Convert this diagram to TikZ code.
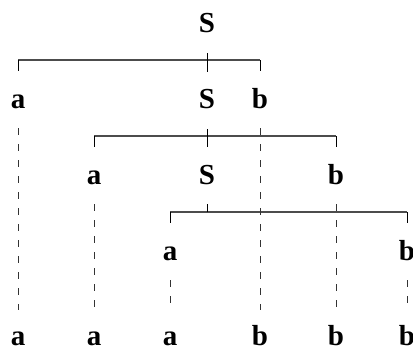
\documentclass[tikz,border=0pt]{standalone}
\usepackage{fontspec}
\setmainfont{Liberation Serif}
\begin{document}
\begin{tikzpicture}[x=1pt,y=-1pt,
  sym/.style={font=\fontsize{29}{29}\selectfont\bfseries, inner sep=0pt, anchor=base},
  stem/.style={draw=black, line width=1pt},
  bar/.style={draw=black!70, line width=1.1pt},
  dline/.style={draw=black!80, line width=1pt, dash pattern=on 7pt off 9pt}]
\useasboundingbox (0,0) rectangle (413,349);
% row 1
\node[sym] (S0) at (207,32) {S};
% row 2
\node[sym] (a1) at (18,108) {a};
\node[sym] (S1) at (207,108) {S};
\node[sym] (b1) at (260,108) {b};
% row 3
\node[sym] (a2) at (94,184) {a};
\node[sym] (S2) at (207,184) {S};
\node[sym] (b2) at (336,184) {b};
% row 4
\node[sym] (a3) at (170,260) {a};
\node[sym] (b3) at (407,260) {b};
% row 5
\node[sym] (t1) at (18,345) {a};
\node[sym] (t2) at (94,345) {a};
\node[sym] (t3) at (170,345) {a};
\node[sym] (t4) at (260,345) {b};
\node[sym] (t5) at (336,345) {b};
\node[sym] (t6) at (407,345) {b};
% brackets
\coordinate (k1l) at (18,60);  \coordinate (k1r) at (260,60);
\coordinate (k2l) at (94,136); \coordinate (k2r) at (336,136);
\coordinate (k3l) at (170,212); \coordinate (k3r) at (407,212);
\coordinate (k3m) at (207,212);
\draw[bar] (k1l) -- (k1r);
\draw[bar] (k2l) -- (k2r);
\draw[bar] (k3l) -- (k3r);
% stems
\draw[stem, shorten <=21pt, shorten >=36pt] (S0.base) -- (S1.base);
\draw[stem, shorten <=21pt, shorten >=37pt] (S1.base) -- (S2.base);
\draw[stem, shorten <=20pt] (S2.base) -- (k3m);
% bracket ends
\draw[stem, shorten >=37pt] (k1l) -- (a1.base);
\draw[stem, shorten >=37pt] (k1r) -- (b1.base);
\draw[stem, shorten >=37pt] (k2l) -- (a2.base);
\draw[stem, shorten >=37pt] (k2r) -- (b2.base);
\draw[stem, shorten >=37pt] (k3l) -- (a3.base);
\draw[stem, shorten >=37pt] (k3r) -- (b3.base);
% dashed
\draw[dline, shorten <=20pt, shorten >=35pt] (a1.base) -- (t1.base);
\draw[dline, shorten <=20pt, shorten >=35pt] (b1.base) -- (t4.base);
\draw[dline, shorten <=20pt, shorten >=38pt] (a2.base) -- (t2.base);
\draw[dline, shorten <=20pt, shorten >=38pt] (b2.base) -- (t5.base);
\draw[dline, shorten <=20pt, shorten >=42pt] (a3.base) -- (t3.base);
\draw[dline, shorten <=20pt, shorten >=42pt] (b3.base) -- (t6.base);
\end{tikzpicture}
\end{document}
